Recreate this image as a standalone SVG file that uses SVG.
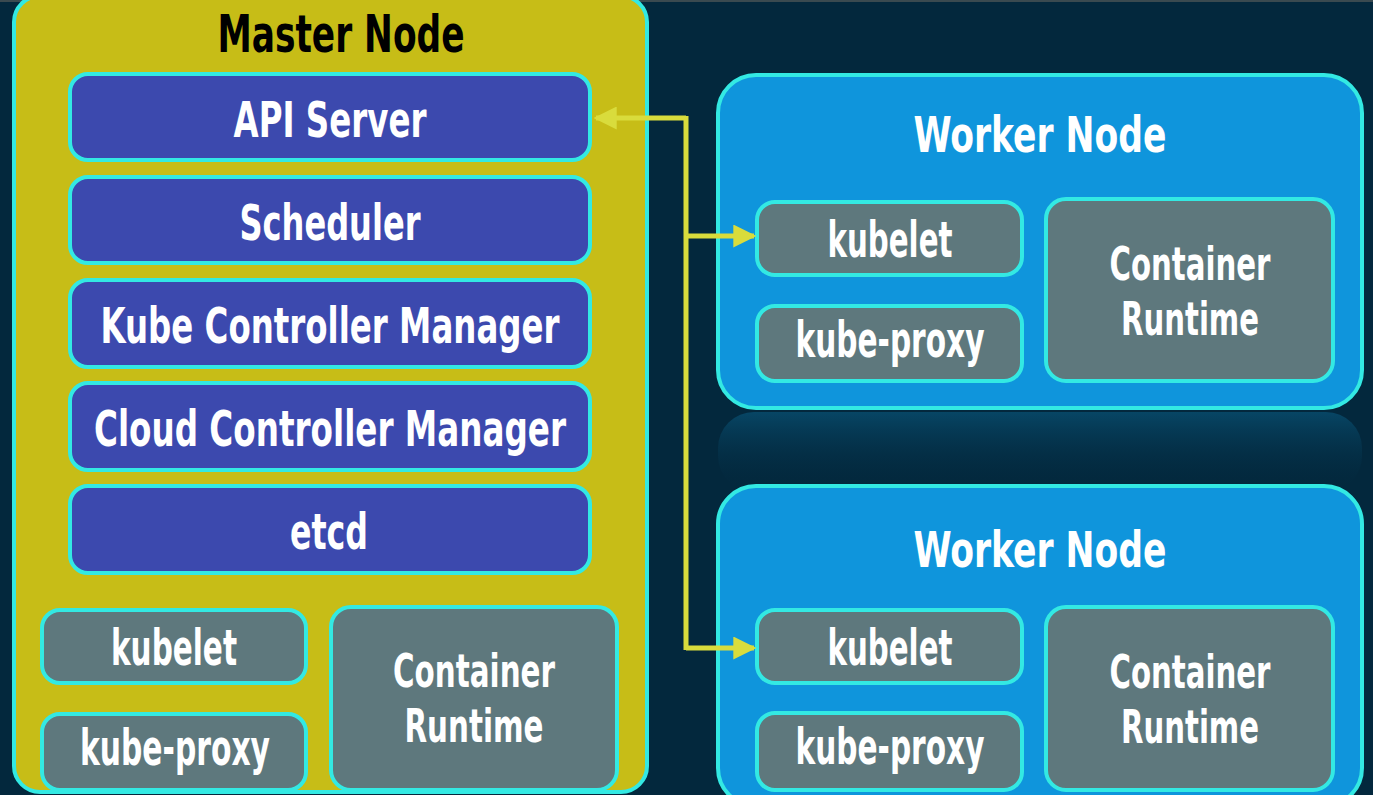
<svg xmlns="http://www.w3.org/2000/svg" width="1373" height="795" viewBox="0 0 1373 795">
<style>
text{font-family:"DejaVu Sans Condensed","DejaVu Sans","Liberation Sans",sans-serif;font-weight:bold;text-anchor:middle}
.lbl{fill:#ffffff;font-size:50px}
.cr{font-size:46px}
.title{font-size:51px}
.box{stroke:#33e9e3;stroke-width:4}
.blue{fill:#3c49ae}
.grey{fill:#5e787d}
.master{fill:#c7bd17;stroke:#33e9e3;stroke-width:4}
.worker{fill:#0f95dc;stroke:#33e9e3;stroke-width:4}
.conn{fill:none;stroke:#d9dc3c;stroke-width:5}
</style>
<defs>
<marker id="ah" viewBox="0 0 10 10" refX="9" refY="5" markerWidth="4.6" markerHeight="4.6" markerUnits="strokeWidth" orient="auto-start-reverse">
<path d="M0,0 L10,5 L0,10 Z" fill="#d9dc3c"/>
</marker>
<linearGradient id="refl" x1="0" y1="0" x2="0" y2="1">
<stop offset="0" stop-color="#0a5a80" stop-opacity="0.6"/>
<stop offset="1" stop-color="#03283d" stop-opacity="0"/>
</linearGradient>
</defs>
<rect x="0" y="0" width="1373" height="795" fill="#03283d"/>
<rect x="0" y="0" width="1373" height="2" fill="#3a4a50"/>

<g id="master">
<rect class="master" x="14" y="-4" width="633" height="796" rx="26"/>
<text class="title" x="341" y="52" fill="#000000" textLength="247" lengthAdjust="spacingAndGlyphs">Master Node</text>
</g>
<g id="api-server">
<rect class="box blue" x="70" y="74" width="520" height="86" rx="18"/>
<text class="lbl" x="330" y="137" textLength="193" lengthAdjust="spacingAndGlyphs">API Server</text>
</g>
<g id="scheduler">
<rect class="box blue" x="70" y="177" width="520" height="86" rx="18"/>
<text class="lbl" x="330" y="240" textLength="181" lengthAdjust="spacingAndGlyphs">Scheduler</text>
</g>
<g id="kube-controller-manager">
<rect class="box blue" x="70" y="280" width="520" height="87" rx="18"/>
<text class="lbl" x="330" y="343" textLength="459" lengthAdjust="spacingAndGlyphs">Kube Controller Manager</text>
</g>
<g id="cloud-controller-manager">
<rect class="box blue" x="70" y="383" width="520" height="87" rx="18"/>
<text class="lbl" x="330" y="446" textLength="472" lengthAdjust="spacingAndGlyphs">Cloud Controller Manager</text>
</g>
<g id="etcd">
<rect class="box blue" x="70" y="486" width="520" height="87" rx="18"/>
<text class="lbl" x="329" y="549" textLength="78" lengthAdjust="spacingAndGlyphs">etcd</text>
</g>
<g id="master-kubelet">
<rect class="box grey" x="42" y="610" width="264" height="73" rx="18"/>
<text class="lbl" x="174" y="665" textLength="126" lengthAdjust="spacingAndGlyphs">kubelet</text>
</g>
<g id="master-kube-proxy">
<rect class="box grey" x="42" y="714" width="264" height="76" rx="18"/>
<text class="lbl" x="175" y="765" textLength="190" lengthAdjust="spacingAndGlyphs">kube-proxy</text>
</g>
<g id="master-container-runtime">
<rect class="box grey" x="331" y="607" width="286" height="183" rx="20"/>
<text class="lbl cr" x="474" y="687" textLength="162" lengthAdjust="spacingAndGlyphs">Container</text>
<text class="lbl cr" x="474" y="742" textLength="139" lengthAdjust="spacingAndGlyphs">Runtime</text>
</g>

<rect x="718" y="412" width="644" height="80" rx="36" fill="url(#refl)"/>

<g id="worker1">
<rect class="worker" x="718" y="75" width="644" height="333" rx="38"/>
<text class="lbl" x="1040" y="152" textLength="253" lengthAdjust="spacingAndGlyphs">Worker Node</text>
</g>
<g id="worker1-kubelet">
<rect class="box grey" x="757" y="202" width="265" height="73" rx="18"/>
<text class="lbl" x="890" y="257" textLength="125" lengthAdjust="spacingAndGlyphs">kubelet</text>
</g>
<g id="worker1-kube-proxy">
<rect class="box grey" x="757" y="306" width="265" height="75" rx="18"/>
<text class="lbl" x="890" y="357" textLength="189" lengthAdjust="spacingAndGlyphs">kube-proxy</text>
</g>
<g id="worker1-container-runtime">
<rect class="box grey" x="1046" y="199" width="287" height="182" rx="20"/>
<text class="lbl cr" x="1190" y="280" textLength="161" lengthAdjust="spacingAndGlyphs">Container</text>
<text class="lbl cr" x="1190" y="335" textLength="138" lengthAdjust="spacingAndGlyphs">Runtime</text>
</g>

<g id="worker2">
<rect class="worker" x="718" y="486" width="644" height="320" rx="38"/>
<text class="lbl" x="1040" y="567" textLength="253" lengthAdjust="spacingAndGlyphs">Worker Node</text>
</g>
<g id="worker2-kubelet">
<rect class="box grey" x="757" y="610" width="265" height="73" rx="18"/>
<text class="lbl" x="890" y="665" textLength="125" lengthAdjust="spacingAndGlyphs">kubelet</text>
</g>
<g id="worker2-kube-proxy">
<rect class="box grey" x="757" y="713" width="265" height="77" rx="18"/>
<text class="lbl" x="890" y="764" textLength="189" lengthAdjust="spacingAndGlyphs">kube-proxy</text>
</g>
<g id="worker2-container-runtime">
<rect class="box grey" x="1046" y="607" width="287" height="183" rx="20"/>
<text class="lbl cr" x="1190" y="688" textLength="161" lengthAdjust="spacingAndGlyphs">Container</text>
<text class="lbl cr" x="1190" y="743" textLength="138" lengthAdjust="spacingAndGlyphs">Runtime</text>
</g>

<g id="connectors">
<path class="conn" d="M686,118 L596,118" marker-end="url(#ah)"/>
<path class="conn" d="M686,116 L686,650"/>
<path class="conn" d="M686,236 L754,236" marker-end="url(#ah)"/>
<path class="conn" d="M686,648 L754,648" marker-end="url(#ah)"/>
</g>
</svg>
